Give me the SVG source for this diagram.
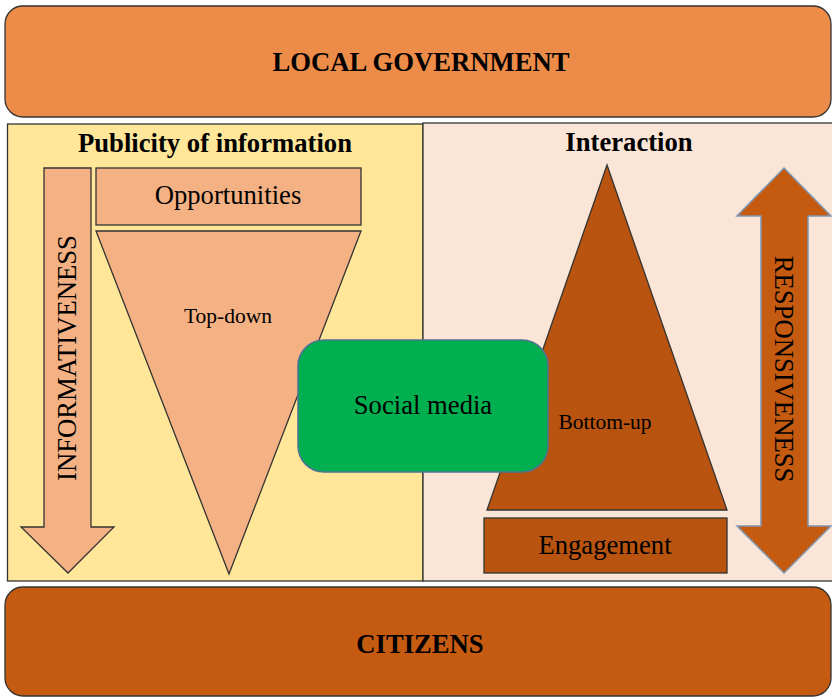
<svg xmlns="http://www.w3.org/2000/svg" width="832" height="697" viewBox="0 0 832 697">
<style>
text{font-family:"Liberation Serif","Times New Roman",serif;fill:#000}
.b{font-weight:bold;font-size:26.67px;text-anchor:middle}
.r{font-size:26.67px;text-anchor:middle}
.s{font-size:21.5px;text-anchor:middle}
.ol{stroke:#333;stroke-width:1.3}
</style>
<rect width="832" height="697" fill="#fff"/>
<g id="local-government">
<rect x="5" y="6" width="826" height="111" rx="18" fill="#ED8B48" class="ol"/>
<text class="b" x="421" y="71">LOCAL GOVERNMENT</text>
</g>
<g id="publicity-panel">
<rect x="7.5" y="124" width="415.5" height="457" fill="#FFE699" class="ol"/>
<text class="b" x="215" y="152">Publicity of information</text>
</g>
<g id="interaction-panel">
<rect x="423" y="123" width="410" height="458" fill="#FBE5D6" class="ol"/>
<text class="b" x="629" y="151">Interaction</text>
</g>
<g id="informativeness">
<polygon points="44,168 91,168 91,527 114,527 68,573 21,527 44,527" fill="#F4B183" class="ol"/>
<text class="r" transform="translate(76,358) rotate(-90)">INFORMATIVENESS</text>
</g>
<g id="opportunities">
<rect x="96" y="168" width="265" height="57" fill="#F4B183" class="ol"/>
<text class="r" x="228" y="204">Opportunities</text>
</g>
<g id="top-down">
<polygon points="96,231 361,231 229,574" fill="#F4B183" class="ol"/>
<text class="s" x="228" y="323">Top-down</text>
</g>
<g id="bottom-up">
<polygon points="607,165 727,510 487,510" fill="#B8540F" class="ol"/>
<text class="s" x="605" y="429">Bottom-up</text>
</g>
<g id="engagement">
<rect x="484" y="518" width="243" height="55" fill="#B8540F" class="ol"/>
<text class="r" x="605" y="554">Engagement</text>
</g>
<g id="responsiveness">
<polygon points="784,168 831,216 808,216 808,526 831,526 784,573 737,526 761,526 761,216 737,216" fill="#C55A11" stroke="#7F97B2" stroke-width="1.5"/>
<text class="r" transform="translate(775,369) rotate(90)">RESPONSIVENESS</text>
</g>
<g id="social-media">
<rect x="298" y="340" width="250" height="132" rx="26" fill="#00B050" stroke="#4F7193" stroke-width="1.5"/>
<text class="r" x="423" y="414">Social media</text>
</g>
<g id="citizens">
<rect x="5" y="587" width="826" height="109" rx="18" fill="#C55A11" class="ol"/>
<text class="b" x="420" y="653">CITIZENS</text>
</g>
<g id="connectors"/>
</svg>
